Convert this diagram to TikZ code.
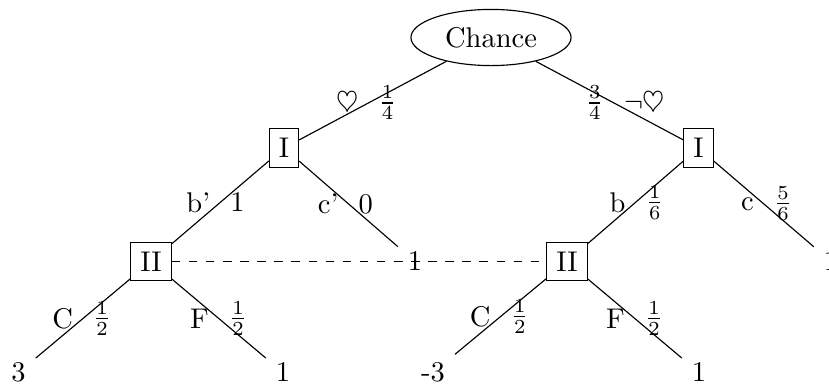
\documentclass[tikz,border=0pt]{standalone}
\usetikzlibrary{shapes.geometric}
\begin{document}
\begin{tikzpicture}[x=0.351pt, y=-0.351pt,
  chancenode/.style={draw, ellipse, minimum width=56.2pt, minimum height=15.1pt},
  playernode/.style={draw, rectangle},
  leafnode/.style={inner sep=3.333pt},
  infoset/.style={dashed}]
\useasboundingbox (0,0) rectangle (829,385);
\node[chancenode] (c) at (491,37.5) {Chance};
\node[playernode] (i1) at (284,148) {I};
\node[playernode] (i2) at (698.5,148) {I};
\node[playernode] (ii1) at (151,261.5) {II};
\node[playernode] (ii2) at (567,261.5) {II};
\node[leafnode] (lm) at (415,261.5) {1};
\node[leafnode] (lr) at (831,261.5) {1};
\node[leafnode] (l1) at (18.5,372.5) {3};
\node[leafnode] (l2) at (283,372.5) {1};
\node[leafnode] (l3) at (433,372.5) {-3};
\node[leafnode] (l4) at (699,372.5) {1};
\draw (c) -- node[pos=0.53,left]{$\heartsuit$} node[pos=0.53,right]{$\frac{1}{4}$} (i1);
\draw (c) -- node[pos=0.53,left]{$\frac{3}{4}$} node[pos=0.53,right]{$\neg\heartsuit$} (i2);
\draw (i1) -- node[midway,left]{b'} node[midway,right]{1} (ii1);
\draw (i1) -- node[midway,left]{c'} node[midway,right]{0} (lm);
\draw (i2) -- node[midway,left]{b} node[midway,right]{$\frac{1}{6}$} (ii2);
\draw (i2) -- node[midway,left]{c} node[midway,right]{$\frac{5}{6}$} (lr);
\draw (ii1) -- node[midway,left]{C} node[midway,right]{$\frac{1}{2}$} (l1);
\draw (ii1) -- node[midway,left]{F} node[midway,right]{$\frac{1}{2}$} (l2);
\draw (ii2) -- node[midway,left]{C} node[midway,right]{$\frac{1}{2}$} (l3);
\draw (ii2) -- node[midway,left]{F} node[midway,right]{$\frac{1}{2}$} (l4);
\draw[infoset] (ii1) -- (ii2);
\end{tikzpicture}
\end{document}
